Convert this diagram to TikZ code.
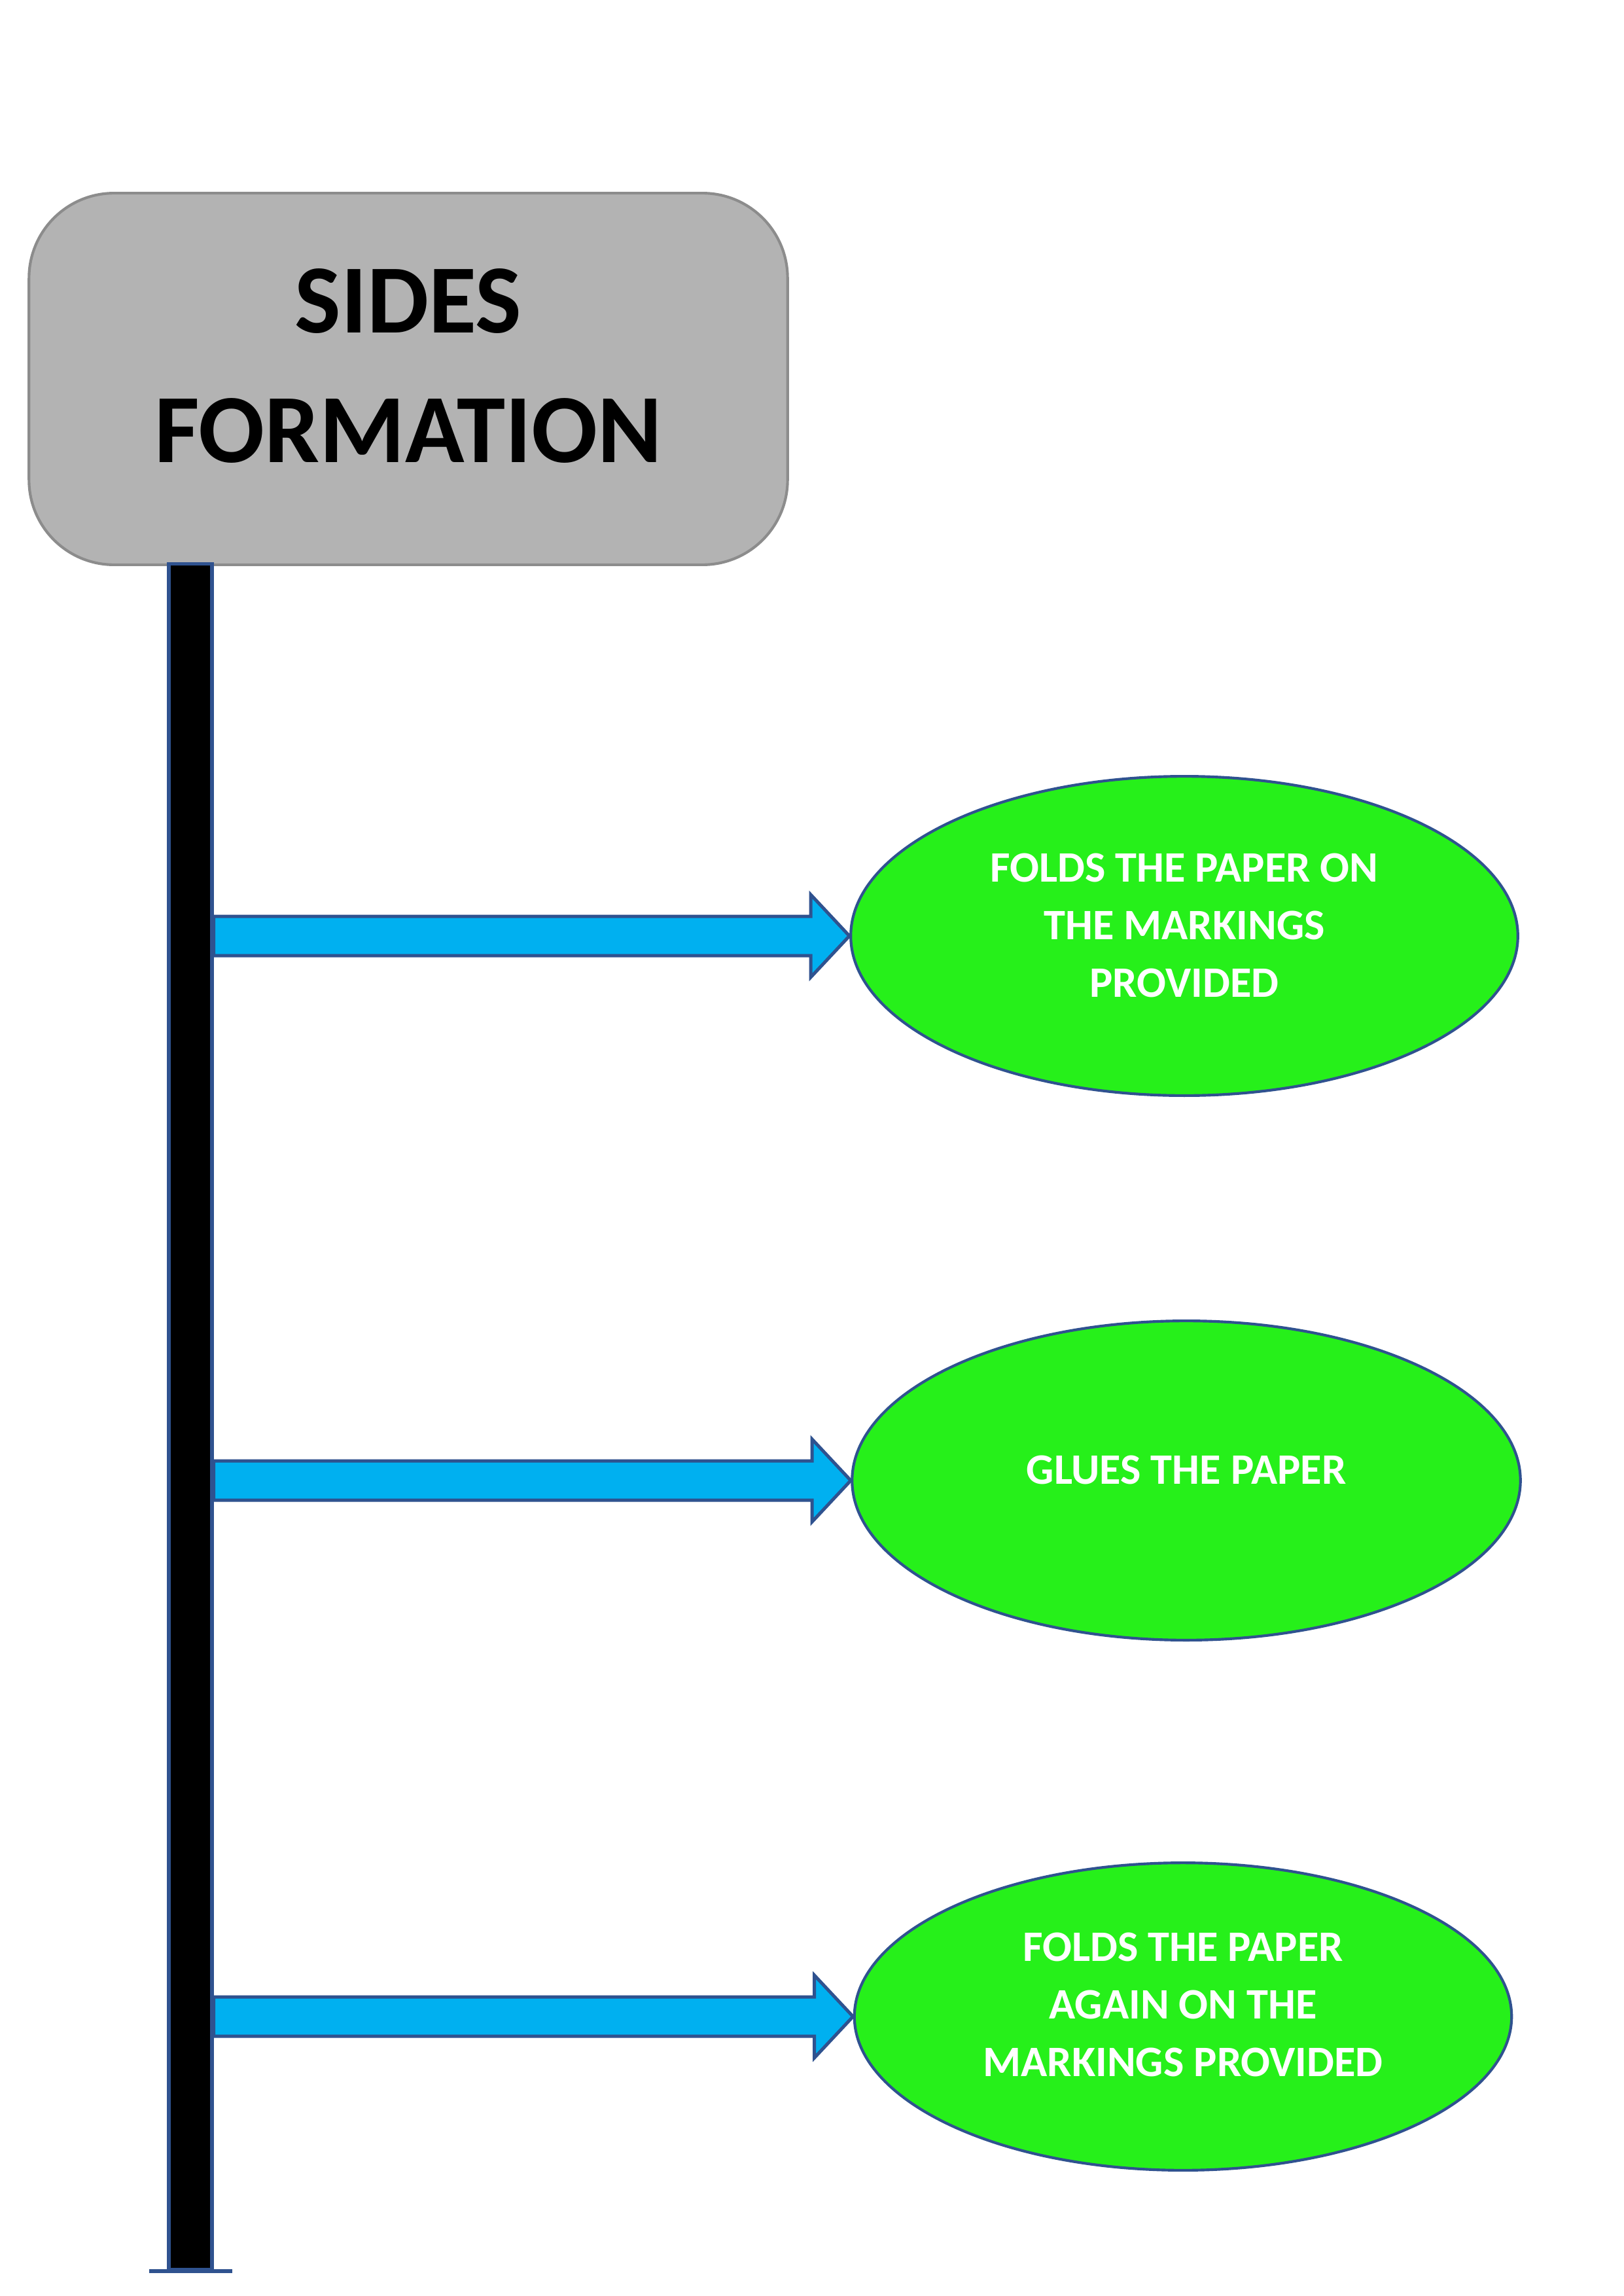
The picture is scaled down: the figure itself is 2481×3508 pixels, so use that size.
\documentclass[tikz,border=0pt]{standalone}
\usepackage{fontspec}
\setmainfont{Carlito}
\usetikzlibrary{shapes.geometric,calc}
\definecolor{boxgray}{RGB}{179,179,179}
\definecolor{boxedge}{RGB}{140,140,140}
\definecolor{edgeblue}{RGB}{47,82,143}
\definecolor{arrowblue}{RGB}{0,176,240}
\definecolor{leafgreen}{RGB}{38,240,26}
\begin{document}
\begin{tikzpicture}[x=0.0084643cm,y=-0.0084643cm,
  titlebox/.style={draw=boxedge,fill=boxgray,line width=1pt,rounded corners=1.1cm,inner sep=0pt},
  titletext/.style={font=\fontsize{36}{47.7}\selectfont\bfseries,align=center,inner sep=0pt,text=black},
  barbox/.style={draw=edgeblue,fill=black,line width=1.3pt,inner sep=0pt},
  leaf/.style={ellipse,draw=edgeblue,fill=leafgreen,line width=1pt,inner sep=0pt},
  leaftext/.style={font=\fontsize{16}{21.2}\selectfont\bfseries,align=center,inner sep=0pt,text=white},
  blockarrow/.style={draw=edgeblue,fill=arrowblue,line width=1.2pt,line join=miter}]
\useasboundingbox (0,0) rectangle (2481,3508);
\fill[white] (0,0) rectangle (2481,3508);

\node[titlebox,minimum width=9.818cm,minimum height=4.808cm] (title) at (624,579) {};
\node[titletext] (titlet) at (624,559) {SIDES\\FORMATION};

\node[barbox,minimum width=0.559cm,minimum height=22.066cm] (bar) at (291,2164.5) {};
\draw[edgeblue,line width=1.3pt] ($(bar.south)+(-63,0)$) -- ($(bar.south)+(64,0)$);

\node[leaf,minimum width=8.634cm,minimum height=4.131cm] (e1) at (1810,1430) {};
\node[leaf,minimum width=8.650cm,minimum height=4.131cm] (e2) at (1813,2262) {};
\node[leaf,minimum width=8.506cm,minimum height=3.978cm] (e3) at (1808,3081) {};

\node[leaftext] (e1t) at ($(e1.center)+(0,-16)$) {FOLDS THE PAPER ON\\THE MARKINGS\\PROVIDED};
\node[leaftext] (e2t) at ($(e2.center)+(0,-16)$) {GLUES THE PAPER};
\node[leaftext] (e3t) at ($(e3.center)+(0,-18)$) {FOLDS THE PAPER\\AGAIN ON THE\\MARKINGS PROVIDED};

\foreach \e in {e1,e2,e3}{
  \coordinate (t\e) at (\e.west);
  \coordinate (s\e) at (bar.east |- \e.west);
  \draw[blockarrow] ($(s\e)+(0,-30)$) -- ($(t\e)+(-59,-30)$) -- ($(t\e)+(-59,-63)$) -- (t\e)
     -- ($(t\e)+(-59,63)$) -- ($(t\e)+(-59,30)$) -- ($(s\e)+(0,30)$) -- cycle;
}
\end{tikzpicture}
\end{document}
